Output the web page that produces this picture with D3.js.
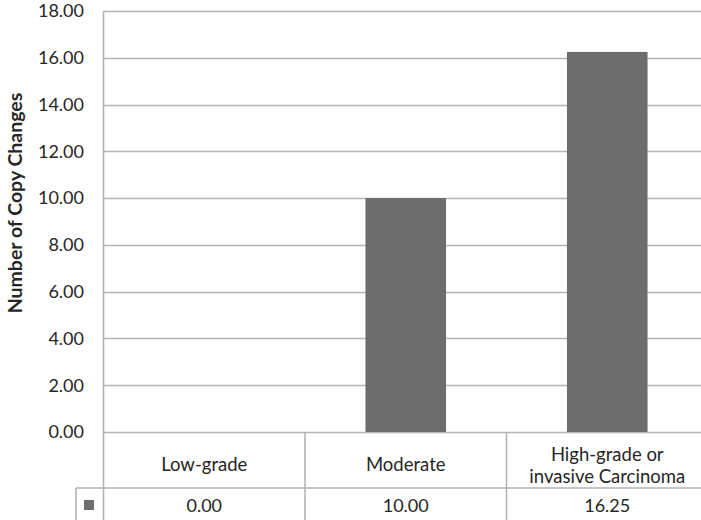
<!DOCTYPE html>
<html><head><meta charset="utf-8">
<script src="https://cdn.jsdelivr.net/npm/d3@7"></script>
<style>
html,body{margin:0;padding:0;background:#fff;}
svg{display:block;}
text{font-family:Lato,"Open Sans",sans-serif;fill:#262626;}
</style></head>
<body>
<svg id="chart" width="701" height="520"></svg>
<script>
const categories = ["Low-grade", "Moderate", "High-grade or|invasive Carcinoma"];
const values = [0.00, 10.00, 16.25];
const yTicks = [0, 2, 4, 6, 8, 10, 12, 14, 16, 18];
const yTitle = "Number of Copy Changes";

(function () {
const svg = d3.select("#chart");
const left = 103.5, right = 708, topY = 11, zeroY = 432;
const rowY = 488, bottomY = 522, legendLeft = 76;
const gridColor = "#b3b3b3";

const y = d3.scaleLinear().domain([0, 18]).range([zeroY, topY]);
const xBand = d3.scaleBand().domain(d3.range(categories.length)).range([left, right]).paddingInner(0.6).paddingOuter(0.3);
const xCell = d3.scaleBand().domain(d3.range(categories.length)).range([left, right]).padding(0);

// gridlines
svg.append("g").selectAll("line").data(yTicks).join("line")
  .attr("x1", left).attr("x2", right)
  .attr("y1", d => Math.round(y(d)) + 0.5).attr("y2", d => Math.round(y(d)) + 0.5)
  .attr("stroke", gridColor).attr("stroke-width", 1.6);

// y tick labels
svg.append("g").selectAll("text").data(yTicks).join("text")
  .attr("x", 84).attr("y", d => y(d))
  .attr("dy", "0.35em").attr("text-anchor", "end")
  .style("font-size", "18px")
  .text(d => d.toFixed(2));

// y title
svg.append("text")
  .attr("transform", `translate(22,203) rotate(-90)`)
  .attr("text-anchor", "middle")
  .style("font-size", "19.5px").style("font-weight", "bold")
  .text(yTitle);

// bars
svg.append("g").selectAll("rect").data(values).join("rect")
  .attr("x", (d, i) => xBand(i)).attr("width", xBand.bandwidth())
  .attr("y", d => y(d)).attr("height", d => zeroY - y(d))
  .attr("fill", "#6d6d6d");

// table lines
const g = svg.append("g").attr("stroke", gridColor).attr("stroke-width", 1.6);
g.append("line").attr("x1", left).attr("x2", left).attr("y1", topY).attr("y2", bottomY);
g.append("line").attr("x1", legendLeft).attr("x2", right).attr("y1", rowY).attr("y2", rowY);
g.append("line").attr("x1", legendLeft).attr("x2", legendLeft).attr("y1", rowY).attr("y2", bottomY);
g.append("line").attr("x1", legendLeft).attr("x2", right).attr("y1", bottomY).attr("y2", bottomY);
g.selectAll(".v").data(d3.range(1, categories.length)).join("line")
  .attr("x1", i => xCell(i)).attr("x2", i => xCell(i))
  .attr("y1", zeroY).attr("y2", bottomY);

// category labels
const cat = svg.append("g").selectAll("text").data(categories).join("text")
  .attr("text-anchor", "middle")
  .style("font-size", "18.5px")
  .attr("x", (d, i) => xCell(i) + xCell.bandwidth() / 2)
  .attr("y", d => d.includes("|") ? 455 : 465);
cat.each(function(d) {
  const parts = d.split("|");
  const el = d3.select(this);
  el.selectAll("tspan").data(parts).join("tspan")
    .attr("x", el.attr("x"))
    .attr("dy", (p, j) => j === 0 ? "0.35em" : "1.15em")
    .text(p => p);
});

// values row
svg.append("g").selectAll("text").data(values).join("text")
  .attr("text-anchor", "middle")
  .style("font-size", "18px")
  .attr("x", (d, i) => xCell(i) + xCell.bandwidth() / 2)
  .attr("y", 506).attr("dy", "0.35em")
  .text(d => d.toFixed(2));

// legend key
svg.append("rect").attr("x", 84).attr("y", 500).attr("width", 10).attr("height", 10).attr("fill", "#6d6d6d");
})();
</script>
</body></html>
